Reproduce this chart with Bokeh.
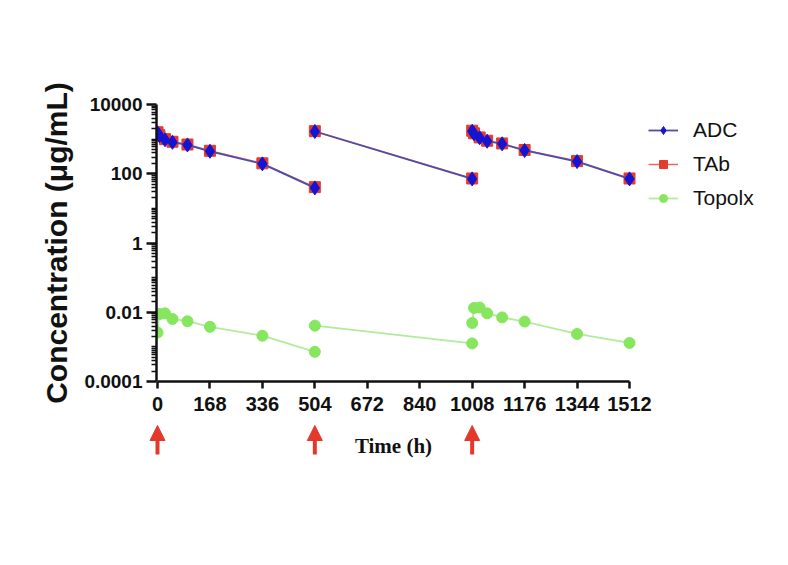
from bokeh.plotting import figure
from bokeh.models import (Range1d, FixedTicker, Legend, LegendItem, Arrow,
                          NormalHead, ColumnDataSource, Label)
from bokeh.embed import file_html
from bokeh.resources import INLINE

# ---------------- data ----------------
DOSE_TIMES = [0, 504, 1008]

T_DOSE1 = [0.083, 6, 24, 48, 96, 168, 336, 504]
T_DOSE2 = [504.083, 1008]
T_DOSE3 = [1008.083, 1014, 1032, 1056, 1104, 1176, 1344, 1512]

ADC_1 = [1520, 1260, 960, 810, 680, 446, 193, 39]
ADC_2 = [1660, 71]
ADC_3 = [1690, 1420, 1090, 870, 730, 470, 225, 71]

TAB_1 = [1580, 1300, 1000, 840, 700, 460, 200, 41]
TAB_2 = [1700, 73]
TAB_3 = [1750, 1470, 1120, 900, 750, 485, 232, 73]

TOPO_1 = [0.0026, 0.0089, 0.0093, 0.0064, 0.0055, 0.0038, 0.0021, 0.00072]
TOPO_2 = [0.0041, 0.00126]
TOPO_3 = [0.0049, 0.0133, 0.0137, 0.0093, 0.0071, 0.0054, 0.00236, 0.0013]

X_TICKS = [0, 168, 336, 504, 672, 840, 1008, 1176, 1344, 1512]
Y_TICKS = [0.0001, 0.01, 1, 100, 10000]
Y_TICK_LABELS = ["0.0001", "0.01", "1", "100", "10000"]

SERIES_NAMES = ["ADC", "TAb", "Topolx"]

# ---------------- styles ----------------
BLUE = "#1414d2"
BLUE_LINE = "#4c4caa"
RED = "#e53b2c"
RED_LINE = "#ea6a5a"
GREEN = "#86e65e"
GREEN_LINE = "#b2eb9c"
ARROW_RED = "#e2392c"
FONT = "Liberation Sans"

PX_PER_H = 472 / 1512.0
LEFT = 156
W = 780
H_TOP = 424
H_BOT = 133

x0 = -1 / PX_PER_H
x1 = x0 + (W - LEFT) / PX_PER_H

p = figure(width=W, height=H_TOP, y_axis_type="log",
           x_range=Range1d(x0, x1), y_range=Range1d(Y_TICKS[0], Y_TICKS[-1]),
           output_backend="svg", toolbar_location=None,
           min_border_left=LEFT, min_border_right=0, min_border_top=104,
           min_border_bottom=43)
p.xgrid.visible = False
p.ygrid.visible = False
p.outline_line_color = None
p.background_fill_color = "white"

# x axis
xa = p.xaxis[0]
xa.ticker = FixedTicker(ticks=X_TICKS)
xa.bounds = (X_TICKS[0], X_TICKS[-1])
xa.axis_line_width = 2.5
xa.axis_line_color = "#111111"
xa.major_tick_line_width = 2.5
xa.major_tick_line_color = "#111111"
xa.major_tick_out = 7
xa.major_tick_in = 0
xa.minor_tick_out = 0
xa.minor_tick_in = 0
xa.major_label_text_font = FONT
xa.major_label_text_font_style = "bold"
xa.major_label_text_font_size = "20px"
xa.major_label_text_color = "#111111"
xa.major_label_standoff = 8

# y axis
minor = []
for k in range(-4, 4):
    for m in range(1, 10):
        v = m * 10.0 ** k
        if m == 1 and k % 2 == 0:
            continue
        minor.append(v)
ya = p.yaxis[0]
ya.ticker = FixedTicker(ticks=Y_TICKS, minor_ticks=minor)
ya.major_label_overrides = dict(zip(Y_TICKS, Y_TICK_LABELS))
ya.axis_line_width = 2.5
ya.axis_line_color = "#111111"
ya.major_tick_line_width = 2.5
ya.major_tick_line_color = "#111111"
ya.minor_tick_line_width = 1.5
ya.minor_tick_line_color = "#111111"
ya.major_tick_out = 10
ya.major_tick_in = 0
ya.minor_tick_out = 5
ya.minor_tick_in = 0
ya.major_label_text_font = FONT
ya.major_label_text_font_style = "bold"
ya.major_label_text_font_size = "19px"
ya.major_label_text_color = "#111111"
ya.major_label_standoff = 4
ya.axis_label = "Concentration (μg/mL)"
ya.axis_label_text_font = FONT
ya.axis_label_text_font_style = "bold"
ya.axis_label_text_font_size = "30px"
ya.axis_label_text_color = "#111111"
ya.axis_label_standoff = 8

segments_t = [T_DOSE1, T_DOSE2, T_DOSE3]

def draw_series(vals, line_color, marker, m_color, m_size, lw):
    lines = []
    for t, v in zip(segments_t, vals):
        lines.append(p.line(t, v, line_color=line_color, line_width=lw))
    all_t = sum(segments_t, [])
    all_v = sum(vals, [])
    src = ColumnDataSource(dict(x=all_t, y=all_v))
    sc = p.scatter("x", "y", source=src, marker=marker, size=m_size,
                   fill_color=m_color, line_color=m_color, line_width=1)
    return lines, sc

tab_lines, tab_sc = draw_series([TAB_1, TAB_2, TAB_3], RED_LINE, "square", RED, 11, 1.5)
adc_lines, adc_sc = draw_series([ADC_1, ADC_2, ADC_3], BLUE_LINE, "diamond", BLUE, 14, 1.8)
topo_lines, topo_sc = draw_series([TOPO_1, TOPO_2, TOPO_3], GREEN_LINE, "circle", GREEN, 11, 1.8)

legend = Legend(items=[
    LegendItem(label=SERIES_NAMES[0], renderers=[adc_lines[0], adc_sc]),
    LegendItem(label=SERIES_NAMES[1], renderers=[tab_lines[0], tab_sc]),
    LegendItem(label=SERIES_NAMES[2], renderers=[topo_lines[0], topo_sc]),
], location=(492, 171))
legend.border_line_color = None
legend.background_fill_alpha = 0
legend.padding = 0
legend.margin = 0
legend.glyph_width = 30
legend.glyph_height = 20
legend.label_standoff = 15
legend.spacing = 10
legend.label_height = 20
legend.label_text_font = FONT
legend.label_text_font_size = "21px"
legend.label_text_color = "#111111"
p.add_layout(legend)

# ---------------- bottom strip: dosing arrows + x title ----------------
bx0 = x0 - LEFT / PX_PER_H
p2 = figure(width=W, height=H_BOT, x_range=Range1d(bx0, x1), y_range=Range1d(0, H_BOT),
            output_backend="svg", toolbar_location=None,
            min_border_left=0, min_border_right=0, min_border_top=0, min_border_bottom=0,
            x_axis_type=None, y_axis_type=None)
p2.outline_line_color = None
p2.grid.visible = False

for t in DOSE_TIMES:
    p2.add_layout(Arrow(end=NormalHead(size=15, fill_color=ARROW_RED, line_color=ARROW_RED, line_width=1),
                        x_start=t, y_start=103, x_end=t, y_end=132,
                        line_color=ARROW_RED, line_width=4))

p2.add_layout(Label(x=(X_TICKS[0] + X_TICKS[-1]) / 2, y=112, text="Time (h)",
                    text_align="center", text_baseline="middle",
                    text_font="Liberation Serif", text_font_style="bold",
                    text_font_size="21px", text_color="#111111"))

open("out.html", "w").write(file_html([p, p2], INLINE))
